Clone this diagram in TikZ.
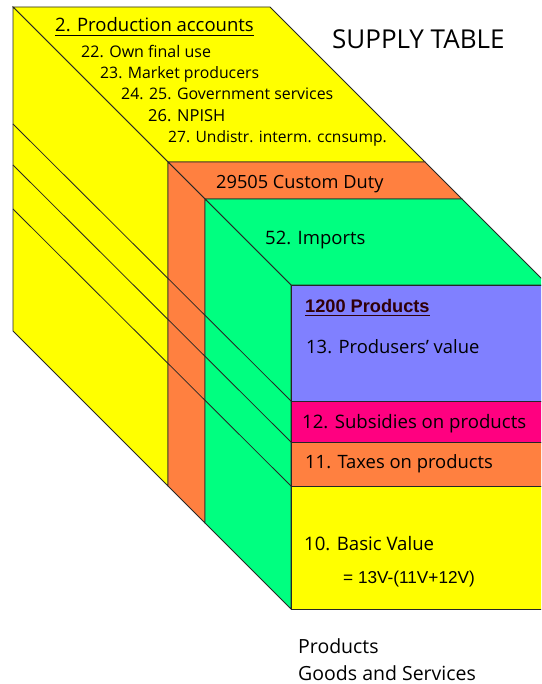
\documentclass[tikz,border=0pt]{standalone}
\usepackage{fontspec}
\setmainfont{Open Sans}
\newfontfamily\arialf{Liberation Sans}
\definecolor{cyel}{HTML}{FFFF00}
\definecolor{corg}{HTML}{FF8040}
\definecolor{cgrn}{HTML}{00FF80}
\definecolor{cblu}{HTML}{8080FF}
\definecolor{cpnk}{HTML}{FF0080}
\definecolor{cdred}{HTML}{300008}
\newcommand{\fsz}[1]{\fontsize{#1}{#1}\selectfont}
\begin{document}
\begin{tikzpicture}[x=1pt,y=-1pt,
  face/.style={draw=black!85, line width=0.8pt, line join=miter},
  edge/.style={draw=black!85, line width=0.8pt},
  lbl/.style={anchor=west, inner sep=0pt, text height=1.6em, text depth=0.2em}]
\useasboundingbox (0,0) rectangle (541,684);
\begin{scope}
\clip (0,0) rectangle (541,684);
% top faces
\filldraw[face, fill=cyel] (13,7) -- (270,7) -- (425,162) -- (168,162) -- cycle;
\filldraw[face, fill=corg] (168,162) -- (425,162) -- (462,199) -- (205,199) -- cycle;
\filldraw[face, fill=cgrn] (205,199) -- (462,199) -- (548,285) -- (291,285) -- cycle;
% side faces
\filldraw[face, fill=cyel] (13,7) -- (168,162) -- (168,486) -- (13,331) -- cycle;
\filldraw[face, fill=corg] (168,162) -- (205,199) -- (205,523) -- (168,486) -- cycle;
\filldraw[face, fill=cgrn] (205,199) -- (291,285) -- (291,609) -- (205,523) -- cycle;
% front face layers
\filldraw[face, fill=cblu] (291,285) rectangle (548,401);
\filldraw[face, fill=cpnk] (291,401) rectangle (548,442);
\filldraw[face, fill=corg] (291,442) rectangle (548,486);
\filldraw[face, fill=cyel] (291,486) rectangle (548,609);
% receding lines
\coordinate (l1a) at (291,401); \coordinate (l1b) at (13,124);
\coordinate (l2a) at (291,442); \coordinate (l2b) at (13,165);
\coordinate (l3a) at (291,486); \coordinate (l3b) at (13,209);
\draw[edge] (l1a) -- (l1b);
\draw[edge] (l2a) -- (l2b);
\draw[edge] (l3a) -- (l3b);
\end{scope}
% texts
\node[lbl, font=\fsz{18.5}] (pa) at (55,25) {2. Production accounts};
\draw[black, line width=0.8pt] ([yshift=-3.5pt]pa.base west) -- ([yshift=-3.5pt]pa.base east);
\node[lbl, font=\fsz{16}] (t22) at (81,51) {22. Own final use};
\node[lbl, font=\fsz{15.8}] (t23) at (100,72) {23. Market producers};
\node[lbl, font=\fsz{15.9}] (t24) at (121,93) {24. 25. Government services};
\node[lbl, font=\fsz{16.5}] (t26) at (148,115) {26. NPISH};
\node[lbl, font=\fsz{15.6}] (t27) at (168,136) {27. Undistr. interm. ccnsump.};
\node[lbl, font=\fsz{26}] (st) at (332,42) {SUPPLY TABLE};
\node[lbl, font=\fsz{18.2}] (cd) at (216,182) {29505 Custom Duty};
\node[lbl, font=\fsz{18.5}] (im) at (265,237) {52. Imports};
\node[lbl, font=\arialf\bfseries\fsz{18.2}, text=cdred] (pr) at (305,305) {1200 Products};
\draw[cdred, line width=1pt] ([yshift=-3pt]pr.base west) -- ([yshift=-3pt]pr.base east);
\node[lbl, font=\fsz{18.4}] (pv) at (306,346) {13. Produsers' value};
\node[lbl, font=\fsz{18.6}] (sb) at (302,421) {12. Subsidies on products};
\node[lbl, font=\fsz{18.4}] (tx) at (305,461) {11. Taxes on products};
\node[lbl, font=\fsz{18.6}] (bv) at (304,543) {10. Basic Value};
\node[lbl, font=\arialf\fsz{17.2}] (eq) at (343,576) {= 13V-(11V+12V)};
\node[lbl, font=\fsz{19.5}] (p1) at (298,646) {Products};
\node[lbl, font=\fsz{19.5}] (p2) at (298,673) {Goods and Services};
\end{tikzpicture}
\end{document}
